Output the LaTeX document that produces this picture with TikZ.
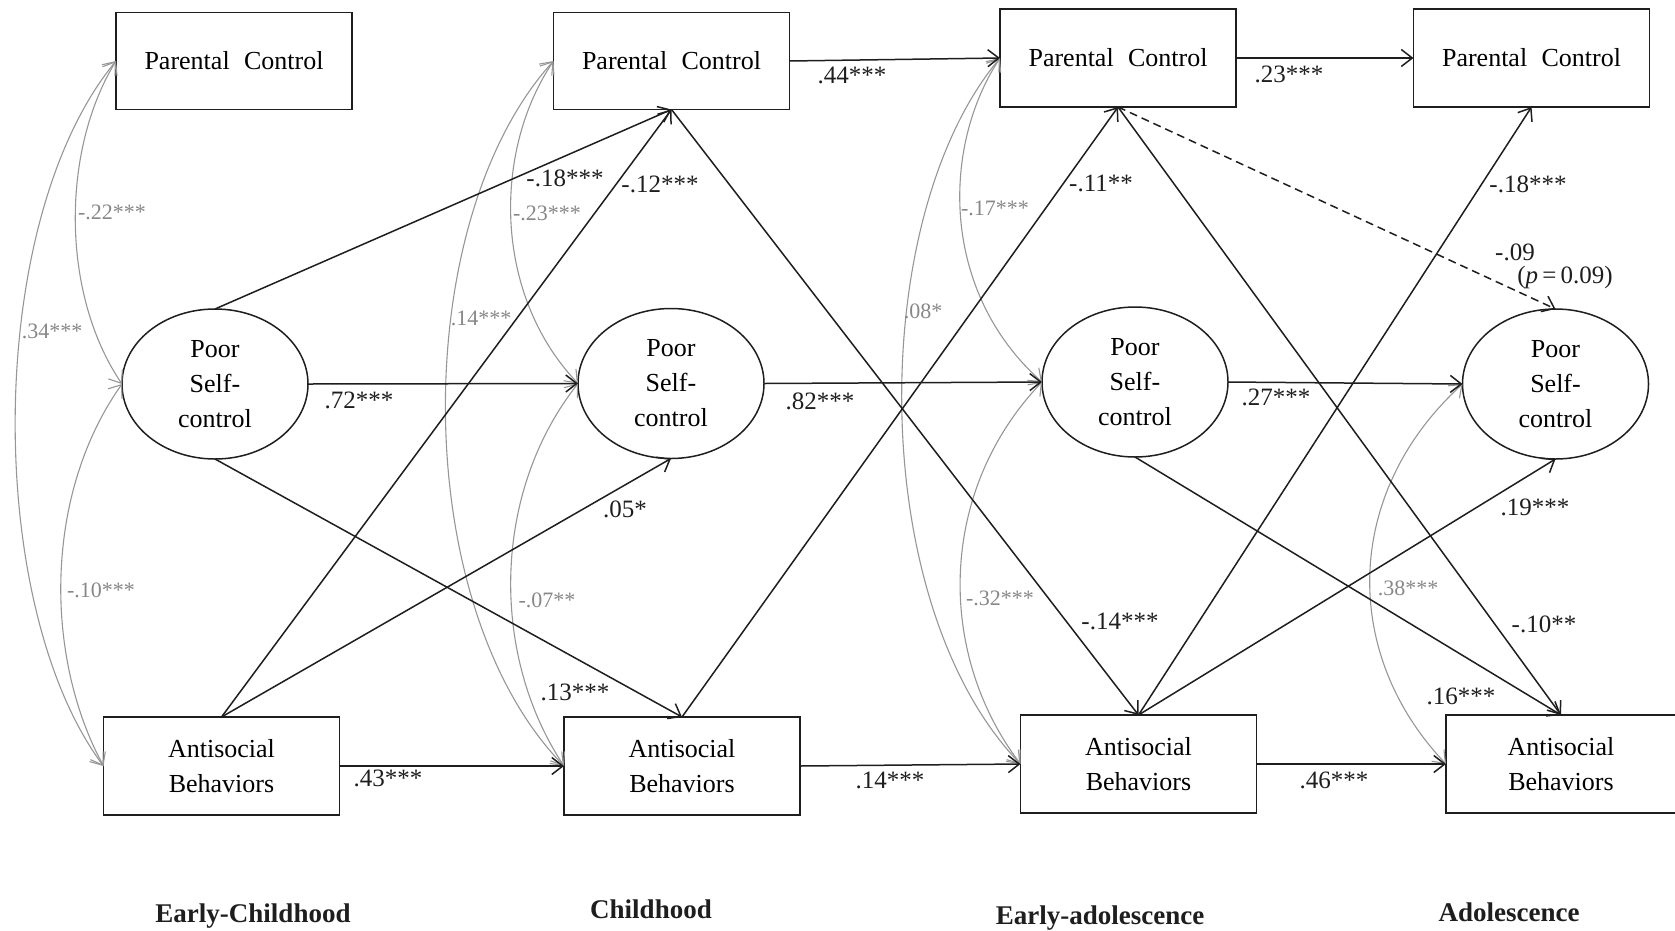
\documentclass[tikz,border=0pt]{standalone}
\usepackage{fontspec}
\setmainfont{Liberation Serif}
\usetikzlibrary{arrows.meta,shapes.geometric}

\definecolor{ink}{RGB}{30,30,30}
\definecolor{covgray}{RGB}{150,150,150}
\definecolor{covtext}{RGB}{135,135,135}

\begin{document}
\begin{tikzpicture}[x=1pt,y=-1pt,
  every node/.style={inner sep=0pt,outer sep=0pt},
  obsbox/.style={draw=ink,line width=1.6pt,minimum width=236pt,minimum height=97pt,
    align=center,font=\fontsize{26}{35}\selectfont},
  latent/.style={draw=ink,ellipse,line width=1.5pt,minimum width=186pt,minimum height=150pt,
    align=center,font=\fontsize{26}{35}\selectfont},
  reg/.style={draw=ink,line width=1.5pt,-{Straight Barb[length=11pt,width=17pt]}},
  cov/.style={draw=covgray,line width=1.1pt,
    {Straight Barb[length=11pt,width=17pt]}-{Straight Barb[length=11pt,width=17pt]}},
  coef/.style={text=ink,font=\fontsize{25}{25}\selectfont},
  gcoef/.style={text=covtext,font=\fontsize{22}{22}\selectfont},
  phase/.style={anchor=base,text=ink,font=\bfseries\fontsize{27}{27}\selectfont}
]
\useasboundingbox (0,0) rectangle (1675,930);
\clip (0,0) rectangle (1675,930);

% ---------- measured variables, four waves ----------
\newcommand{\pctext}{Parental\hspace{0.55em}Control}
\node[obsbox] (pc1) at (234,61)    {\pctext};
\node[obsbox] (pc2) at (671.5,61)  {\pctext};
\node[obsbox,minimum height=98pt] (pc3) at (1118,58)   {\pctext};
\node[obsbox,minimum height=98pt] (pc4) at (1531.5,58) {\pctext};

\node[latent] (e1) at (215,384)    {Poor\\Self-\\control};
\node[latent] (e2) at (671,383.5)  {Poor\\Self-\\control};
\node[latent] (e3) at (1135,382)   {Poor\\Self-\\control};
\node[latent] (e4) at (1555.5,384) {Poor\\Self-\\control};

\node[obsbox,minimum height=98pt] (ab1) at (221.5,766) {Antisocial\\Behaviors};
\node[obsbox,minimum height=98pt] (ab2) at (682,766)   {Antisocial\\Behaviors};
\node[obsbox,minimum height=98pt] (ab3) at (1138.5,764) {Antisocial\\Behaviors};
\node[obsbox,minimum height=98pt,minimum width=230pt] (ab4) at (1561,764) {Antisocial\\Behaviors};

% ---------- within-wave covariances ----------
\draw[cov] (pc1.west) .. controls (61,151) and (61,294) .. (e1.west);
\draw[cov] (pc1.west) .. controls (-16,221) and (-16,606) .. (ab1.west);
\draw[cov] (e1.west) .. controls (44,494) and (44,656) .. (ab1.west);

\draw[cov] (pc2.west) .. controls (493,151) and (493,294) .. (e2.west);
\draw[cov] (pc2.west) .. controls (408,221) and (408,606) .. (ab2.west);
\draw[cov] (e2.west) .. controls (491,494) and (491,656) .. (ab2.west);

\draw[cov] (pc3.west) .. controls (941,148) and (941,292) .. (e3.west);
\draw[cov] (pc3.west) .. controls (866,218) and (866,604) .. (ab3.west);
\draw[cov] (e3.west) .. controls (937,492) and (937,654) .. (ab3.west);

\draw[cov] (e4.west) .. controls (1342,494) and (1342,655) .. (ab4.west);

\node[gcoef] (k1) at (112,212) {-.22***};
\node[gcoef] (k2) at (52,331)  {.34***};
\node[gcoef] (k3) at (101,590) {-.10***};
\node[gcoef] (k4) at (547,213) {-.23***};
\node[gcoef] (k5) at (481,318) {.14***};
\node[gcoef] (k6) at (547,600) {-.07**};
\node[gcoef] (k7) at (995,208) {-.17***};
\node[gcoef] (k8) at (923,311) {.08*};
\node[gcoef] (k9) at (1000,598) {-.32***};
\node[gcoef] (k10) at (1408,588) {.38***};

% ---------- stability paths ----------
\draw[reg] (pc2.east) -- (pc3.west);
\draw[reg] (pc3.east) -- (pc4.west);
\draw[reg] (e1.east) -- (e2.west);
\draw[reg] (e2.east) -- (e3.west);
\draw[reg] (e3.east) -- (e4.west);
\draw[reg] (ab1.east) -- (ab2.west);
\draw[reg] (ab2.east) -- (ab3.west);
\draw[reg] (ab3.east) -- (ab4.west);

\node[coef] (s1) at (852,75)   {.44***};
\node[coef] (s2) at (1289,74)  {.23***};
\node[coef] (s3) at (359,400)  {.72***};
\node[coef] (s4) at (820,401)  {.82***};
\node[coef] (s5) at (1276,397) {.27***};
\node[coef] (s6) at (388,778)  {.43***};
\node[coef] (s7) at (890,780)  {.14***};
\node[coef] (s8) at (1334,780) {.46***};

% ---------- cross-lagged paths ----------
\draw[reg] (e1.north) -- (pc2.south);
\draw[reg] (ab1.north) -- (pc2.south);
\draw[reg] (ab1.north) -- (e2.south);
\draw[reg] (e1.south) -- (ab2.north);

\draw[reg] (pc2.south) -- (ab3.north);
\draw[reg] (ab2.north) -- (pc3.south);

\draw[reg] (pc3.south) -- (ab4.north);
\draw[reg] (ab3.north) -- (pc4.south);
\draw[reg] (ab3.north) -- (e4.south);
\draw[reg] (e3.south) -- (ab4.north);
\draw[reg,dashed,dash pattern=on 8pt off 5pt] (pc3.south) -- (e4.north);

\node[coef] (c1) at (565,178)  {-.18***};
\node[coef] (c2) at (660,184)  {-.12***};
\node[coef] (c3) at (625,509)  {.05*};
\node[coef] (c4) at (575,692)  {.13***};
\node[coef] (c5) at (1120,621) {-.14***};
\node[coef] (c6) at (1101,183) {-.11**};
\node[coef] (c7) at (1528,184) {-.18***};
\node[coef] (c8) at (1535,507) {.19***};
\node[coef] (c9) at (1544,624) {-.10**};
\node[coef] (c10) at (1461,696) {.16***};
\node[coef] (c11) at (1515,252) {-.09};
\node[coef] (c12) at (1565,277) {(\textit{p}\,=\,0.09)};

% ---------- developmental periods ----------
\node[phase] (t1) at (253,922)  {Early-Childhood};
\node[phase] (t2) at (651,918)  {Childhood};
\node[phase] (t3) at (1100,924) {Early-adolescence};
\node[phase] (t4) at (1509,921) {Adolescence};
\end{tikzpicture}
\end{document}
